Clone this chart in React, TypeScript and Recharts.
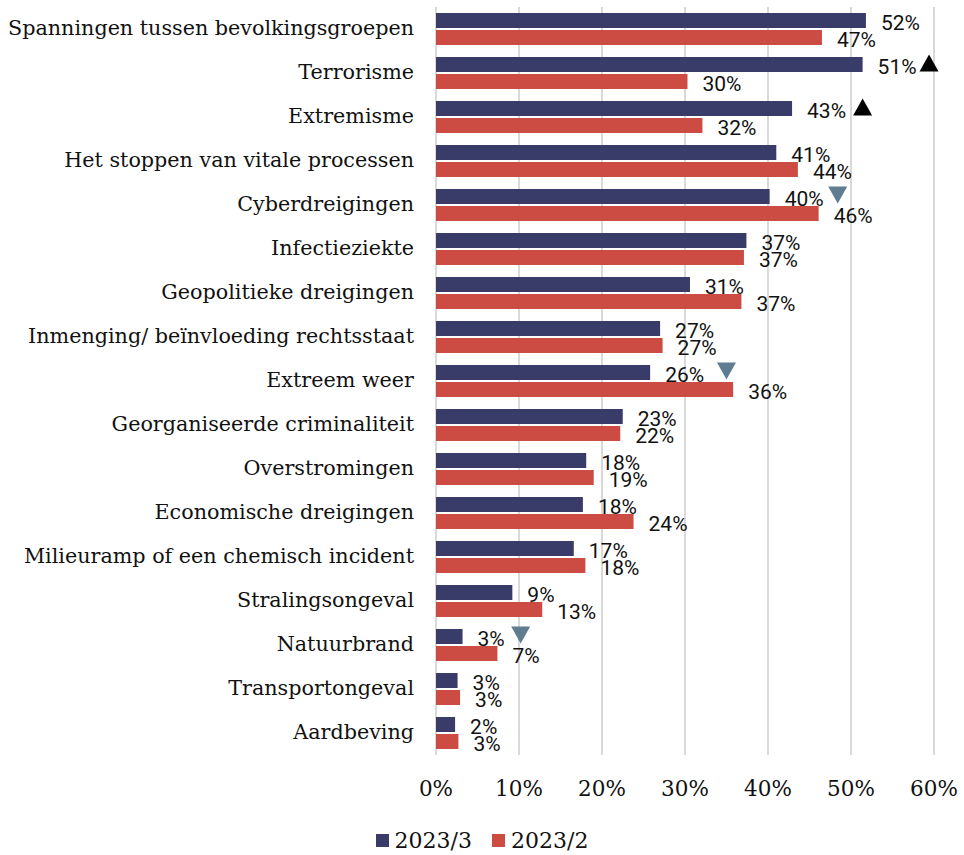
import { BarChart, Bar, XAxis, YAxis, CartesianGrid, Legend, LabelList } from 'recharts'

const categories = [
  'Spanningen tussen bevolkingsgroepen',
  'Terrorisme',
  'Extremisme',
  'Het stoppen van vitale processen',
  'Cyberdreigingen',
  'Infectieziekte',
  'Geopolitieke dreigingen',
  'Inmenging/ beïnvloeding rechtsstaat',
  'Extreem weer ',
  'Georganiseerde criminaliteit',
  'Overstromingen',
  'Economische dreigingen',
  'Milieuramp of een chemisch incident',
  'Stralingsongeval',
  'Natuurbrand',
  'Transportongeval',
  'Aardbeving',
]

// 2023/3 (blue) and 2023/2 (red), percentages
const wave3 = [51.8, 51.4, 42.9, 41.0, 40.2, 37.4, 30.6, 27.0, 25.8, 22.5, 18.1, 17.7, 16.6, 9.2, 3.2, 2.6, 2.3]
const wave2 = [46.5, 30.3, 32.1, 43.6, 46.1, 37.1, 36.8, 27.3, 35.8, 22.2, 19.0, 23.8, 18.0, 12.8, 7.4, 2.9, 2.7]

// significance markers next to the 2023/3 value
const trend = [null, 'up', 'up', null, 'down', null, null, null, 'down', null, null, null, null, null, 'down', null, null]
const markerAt = [null, 59.4, 51.4, null, 48.4, null, null, null, 35.0, null, null, null, null, null, 10.2, null, null]

const xTicks = [0, 10, 20, 30, 40, 50, 60]

const data = categories.map((name, i) => ({
  name,
  w3: wave3[i],
  w2: wave2[i],
  trend: trend[i],
  markerAt: markerAt[i],
}))

const BLUE = '#393c69'
const RED = '#cc4b43'
const SLATE = '#5f7d91'
const SERIF = '"DejaVu Serif", serif'

function valueText(x: number, y: number, value: number) {
  return (
    <text x={x} y={y} fontFamily="Roboto, sans-serif" fontSize={21} fill="#111" dominantBaseline="central">
      {Math.round(value)}%
    </text>
  )
}

function BlueLabel(props: any) {
  const { x, y, width, height, value, index } = props
  const cy = y + height / 2 + 2
  const row = data[index]
  let marker = null
  if (row && row.trend && row.markerAt != null) {
    const mx = x + (row.markerAt * width) / value
    const my = y + height / 2 - 1.5
    const hw = 9.5
    const hh = 8.5
    marker =
      row.trend === 'up' ? (
        <polygon points={`${mx - hw},${my + hh} ${mx + hw},${my + hh} ${mx},${my - hh}`} fill="#000" />
      ) : (
        <polygon points={`${mx - hw},${my - hh} ${mx + hw},${my - hh} ${mx},${my + hh}`} fill={SLATE} />
      )
  }
  return (
    <g>
      {valueText(x + width + 15, cy, value)}
      {marker}
    </g>
  )
}

function RedLabel(props: any) {
  const { x, y, width, height, value } = props
  return valueText(x + width + 15, y + height / 2 + 2, value)
}

function LegendContent() {
  const items = [
    { label: '2023/3', color: BLUE },
    { label: '2023/2', color: RED },
  ]
  return (
    <div style={{ display: 'flex', justifyContent: 'center', gap: 20, paddingTop: 18, fontFamily: SERIF, fontSize: 22 }}>
      {items.map((it) => (
        <div key={it.label} style={{ display: 'flex', alignItems: 'center', gap: 6 }}>
          <span style={{ width: 13, height: 13, background: it.color, display: 'inline-block' }} />
          <span style={{ color: '#111' }}>{it.label}</span>
        </div>
      ))}
    </div>
  )
}

export default function App() {
  return (
    <div style={{ position: 'absolute', left: 0, top: 0 }}>
      <BarChart
        width={964}
        height={855}
        data={data}
        layout="vertical"
        margin={{ top: 7, right: 30, left: 0, bottom: 0 }}
        barSize={15}
        barGap={2}
      >
        <CartesianGrid horizontal={false} stroke="#d9d9d9" strokeWidth={2} />
        <XAxis
          type="number"
          domain={[0, 60]}
          ticks={xTicks}
          tickFormatter={(v) => `${v}%`}
          axisLine={false}
          tickLine={false}
          tickMargin={20}
          height={55}
          tick={{ fontFamily: SERIF, fontSize: 21.5, fill: '#111' }}
        />
        <YAxis
          type="category"
          dataKey="name"
          width={436}
          axisLine={false}
          tickLine={false}
          tickMargin={16}
          interval={0}
          tick={{ fontFamily: SERIF, fontSize: 20.7, fill: '#111', dy: -1.5 }}
        />
        <Legend verticalAlign="bottom" height={45} content={<LegendContent />} wrapperStyle={{ left: 0, width: 964 }} />
        <Bar dataKey="w3" name="2023/3" fill={BLUE} isAnimationActive={false}>
          <LabelList dataKey="w3" content={<BlueLabel />} />
        </Bar>
        <Bar dataKey="w2" name="2023/2" fill={RED} isAnimationActive={false}>
          <LabelList dataKey="w2" content={<RedLabel />} />
        </Bar>
      </BarChart>
    </div>
  )
}
